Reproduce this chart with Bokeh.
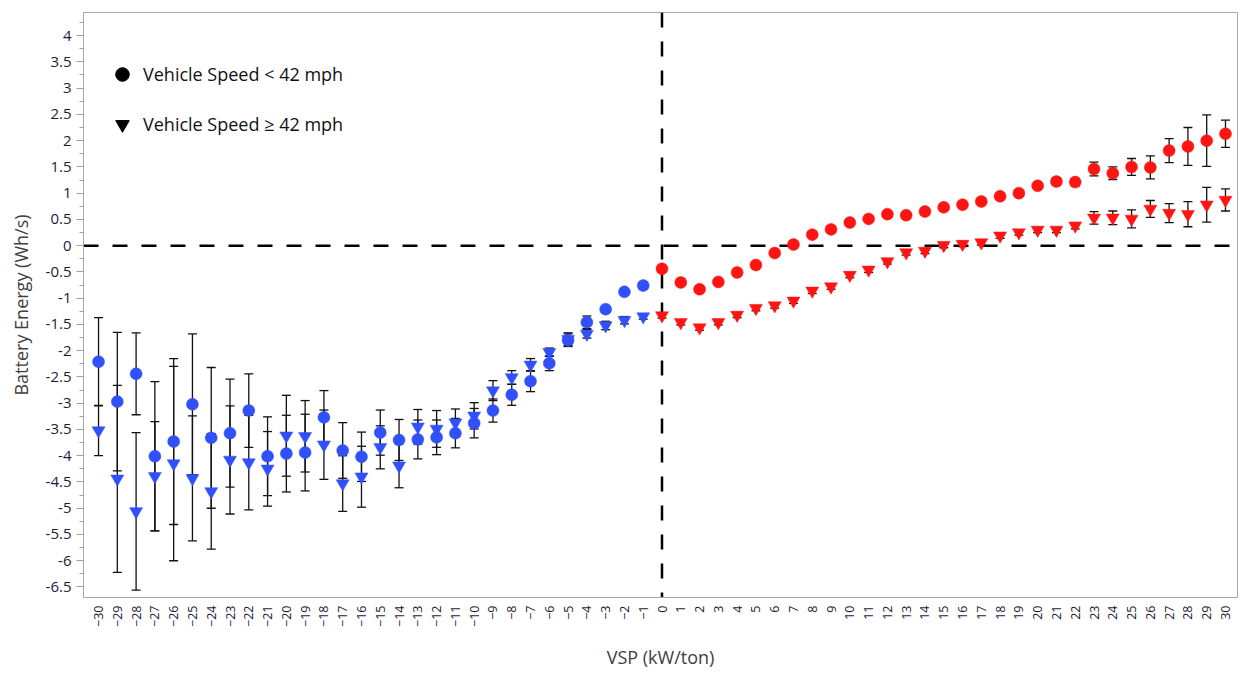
import math
import numpy as np
from bokeh.plotting import figure
from bokeh.models import (ColumnDataSource, Range1d, FixedTicker, Whisker, TeeHead,
                          Span, Legend, LegendItem, CustomJSTickFormatter)
from bokeh.embed import file_html
from bokeh.resources import INLINE

# ---------------- data ----------------
vsp = list(range(-30, 31))

slow_mean = [-2.21, -2.97, -2.44, -4.01, -3.73, -3.02, -3.66, -3.57, -3.14, -4.01,
             -3.96, -3.94, -3.27, -3.90, -4.02, -3.56, -3.70, -3.69, -3.65, -3.57,
             -3.38, -3.14, -2.84, -2.58, -2.24, -1.80, -1.46, -1.21, -0.88, -0.76,
             -0.44, -0.70, -0.83, -0.69, -0.51, -0.37, -0.14, 0.02, 0.21, 0.31,
             0.44, 0.51, 0.60, 0.58, 0.65, 0.73, 0.78, 0.84, 0.94, 1.00,
             1.14, 1.22, 1.21, 1.46, 1.38, 1.50, 1.49, 1.81, 1.89, 2.00, 2.13]
slow_err = [0.84, 1.32, 0.78, 1.42, 1.58, 1.34, 1.34, 1.03, 0.70, 0.75,
            0.73, 0.73, 0.51, 0.53, 0.47, 0.43, 0.39, 0.37, 0.33, 0.28,
            0.28, 0.22, 0.20, 0.20, 0.14, 0.12, 0.12, 0.05, 0.06, 0.05,
            0.05, 0.04, 0.04, 0.04, 0.04, 0.05, 0.04, 0.04, 0.05, 0.05,
            0.05, 0.05, 0.05, 0.05, 0.05, 0.05, 0.05, 0.05, 0.05, 0.05,
            0.06, 0.07, 0.07, 0.13, 0.12, 0.16, 0.22, 0.23, 0.36, 0.49, 0.26]

fast_mean = [-3.52, -4.44, -5.06, -4.39, -4.15, -4.43, -4.68, -4.08, -4.13, -4.25,
             -3.62, -3.63, -3.79, -4.53, -4.40, -3.84, -4.19, -3.45, -3.49, -3.37,
             -3.24, -2.76, -2.51, -2.27, -2.03, -1.78, -1.68, -1.52, -1.42, -1.35,
             -1.33, -1.46, -1.56, -1.46, -1.32, -1.19, -1.14, -1.05, -0.86, -0.78,
             -0.56, -0.46, -0.30, -0.13, -0.10, 0.01, 0.03, 0.06, 0.19, 0.25,
             0.30, 0.30, 0.38, 0.53, 0.53, 0.51, 0.70, 0.62, 0.60, 0.78, 0.87]
fast_err = [0.48, 1.78, 1.50, 1.04, 1.85, 1.19, 1.10, 1.03, 0.90, 0.71,
            0.77, 0.68, 0.66, 0.53, 0.58, 0.41, 0.42, 0.33, 0.35, 0.26,
            0.25, 0.19, 0.13, 0.12, 0.08, 0.12, 0.08, 0.08, 0.07, 0.05,
            0.05, 0.05, 0.05, 0.05, 0.05, 0.05, 0.05, 0.05, 0.05, 0.05,
            0.05, 0.05, 0.05, 0.05, 0.05, 0.05, 0.05, 0.05, 0.05, 0.05,
            0.05, 0.05, 0.06, 0.12, 0.13, 0.17, 0.16, 0.18, 0.24, 0.33, 0.21]

y_ticks = [-6.5, -6, -5.5, -5, -4.5, -4, -3.5, -3, -2.5, -2, -1.5, -1, -0.5,
           0, 0.5, 1, 1.5, 2, 2.5, 3, 3.5, 4]

legend_labels = ["Vehicle Speed < 42 mph", "Vehicle Speed \u2265 42 mph"]

BLUE = "#3050FA"
RED = "#FF1414"


def make_source(mean, err):
    m = np.array(mean)
    e = np.array(err)
    cols = [BLUE if v < 0 else RED for v in vsp]
    return ColumnDataSource(dict(x=vsp, y=m, lo=m - e, hi=m + e, c=cols))


src_slow = make_source(slow_mean, slow_err)
src_fast = make_source(fast_mean, fast_err)

FONT = "Open Sans"

p = figure(width=1240, height=672,
           x_range=Range1d(-30.8, 30.64), y_range=Range1d(-6.70, 4.44),
           output_backend="svg", toolbar_location=None,
           min_border_left=83, min_border_right=3, min_border_top=12, min_border_bottom=75)
p.xgrid.visible = False
p.ygrid.visible = False
p.outline_line_color = "#a8a8a8"
p.background_fill_color = "white"

# reference dashed lines
p.add_layout(Span(location=0, dimension="width", line_color="black", line_width=2.5,
                  line_dash="15 14", level="underlay"))
p.add_layout(Span(location=0, dimension="height", line_color="black", line_width=2.5,
                  line_dash="15 14", level="underlay"))

# error bars
for src in (src_slow, src_fast):
    w = Whisker(base="x", upper="hi", lower="lo", source=src,
                line_color="#111111", line_width=1.3,
                upper_head=TeeHead(size=9, line_color="#111111", line_width=1.3),
                lower_head=TeeHead(size=9, line_color="#111111", line_width=1.3))
    w.level = "underlay"
    p.add_layout(w)

p.scatter("x", "y", source=src_slow, marker="circle", size=12,
          fill_color="c", line_color="c", line_width=0.5)
p.scatter("x", "y", source=src_fast, marker="inverted_triangle", size=13,
          fill_color="c", line_color="c", line_width=0.5)

# legend (black keys; NaN point so nothing is drawn in the plot area)
r1 = p.scatter(x=[np.nan], y=[np.nan], marker="circle", size=12, color="black")
r2 = p.scatter(x=[np.nan], y=[np.nan], marker="inverted_triangle", size=12, color="black")
legend = Legend(items=[LegendItem(label=legend_labels[0], renderers=[r1], index=0),
                       LegendItem(label=legend_labels[1], renderers=[r2], index=0)],
                location=(22, 456), margin=0, padding=0, spacing=16,
                glyph_width=34, glyph_height=34, label_standoff=4,
                label_text_font=FONT, label_text_font_size="18px",
                label_text_color="#111111",
                border_line_color=None, background_fill_alpha=0)
p.add_layout(legend)

# axes
yax = p.yaxis[0]
yax.ticker = FixedTicker(ticks=y_ticks,
                         minor_ticks=[round(v, 2) for v in np.arange(-6.75, 4.45, 0.25)])
yax.formatter = CustomJSTickFormatter(code="return tick.toString()")
yax.axis_label = "Battery Energy (Wh/s)"
yax.axis_label_text_font = FONT
yax.axis_label_text_font_style = "normal"
yax.axis_label_text_font_size = "18px"
yax.axis_label_text_color = "#404040"
yax.axis_label_standoff = 10
yax.major_label_text_font = FONT
yax.major_label_text_font_size = "15px"
yax.major_label_text_color = "#1c1c3a"
yax.major_label_standoff = 5
yax.axis_line_color = "#a8a8a8"
yax.major_tick_line_color = "#a0a0a0"
yax.minor_tick_line_color = "#a0a0a0"
yax.major_tick_out = 7
yax.major_tick_in = 0
yax.minor_tick_out = 4
yax.minor_tick_in = 0

xax = p.xaxis[0]
xax.ticker = FixedTicker(ticks=vsp, minor_ticks=[])
xax.major_label_orientation = math.pi / 2
xax.axis_label = "VSP (kW/ton)"
xax.axis_label_text_font = FONT
xax.axis_label_text_font_style = "normal"
xax.axis_label_text_font_size = "18px"
xax.axis_label_text_color = "#404040"
xax.axis_label_standoff = 15
xax.major_label_text_font = FONT
xax.major_label_text_font_size = "12.5px"
xax.major_label_text_color = "#1c1c3a"
xax.major_label_standoff = 6
xax.axis_line_color = "#a8a8a8"
xax.major_tick_line_color = None
xax.major_tick_out = 2
xax.major_tick_in = 0

open("out.html", "w").write(file_html(p, INLINE))
